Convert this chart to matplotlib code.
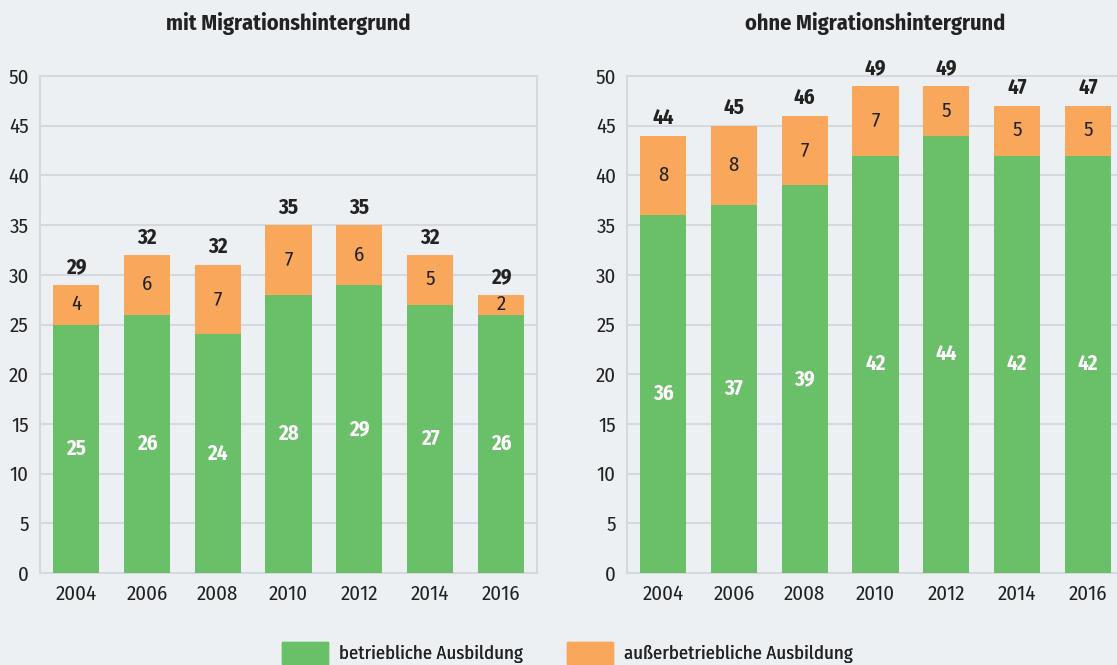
import numpy as np
import matplotlib.pyplot as plt
from matplotlib import font_manager
from matplotlib.patches import Patch

# schmale Schrift mit Bold-Schnitt nehmen
names = set(f.name for f in font_manager.fontManager.ttflist)
font = 'DejaVu Sans'
for cand in ['Fira Sans Condensed', 'Barlow Semi Condensed', 'Asap Condensed']:
    if cand in names:
        font = cand
        break
plt.rcParams['font.family'] = [font, 'DejaVu Sans']
fs = 15 if font != 'DejaVu Sans' else 13.5

years = ['2004', '2006', '2008', '2010', '2012', '2014', '2016']
mit_betr = [25, 26, 24, 28, 29, 27, 26]
mit_ausser = [4, 6, 7, 7, 6, 5, 2]
mit_total = [29, 32, 32, 35, 35, 32, 29]
ohne_betr = [36, 37, 39, 42, 44, 42, 42]
ohne_ausser = [8, 8, 7, 7, 5, 5, 5]
ohne_total = [44, 45, 46, 49, 49, 47, 47]

green = '#6abf69'
orange = '#f9a85b'
bg = '#ecf0f3'
grid_c = '#d5d8dd'
dark = '#222222'

fig = plt.figure(figsize=(11.17, 6.65), dpi=100, facecolor=bg)
W, H = 1117, 665
ax1 = fig.add_axes([40 / W, 1 - 573 / H, 497 / W, 497 / H])
ax2 = fig.add_axes([627 / W, 1 - 573 / H, 497 / W, 497 / H])


def draw(ax, betr, ausser, total, title, box_right):
    x = np.arange(len(years))
    ax.set_facecolor(bg)
    ax.bar(x, betr, width=0.65, color=green, zorder=3)
    ax.bar(x, ausser, bottom=betr, width=0.65, color=orange, zorder=3)
    for i in range(len(x)):
        ax.text(x[i], betr[i] / 2, str(betr[i]), ha='center', va='center',
                color='white', fontsize=fs, fontweight='bold', zorder=4)
        ax.text(x[i], betr[i] + ausser[i] / 2, str(ausser[i]), ha='center', va='center',
                color=dark, fontsize=fs, zorder=4)
        ax.annotate(str(total[i]), (x[i], betr[i] + ausser[i]), xytext=(0, 5),
                    textcoords='offset points', ha='center', va='bottom',
                    color=dark, fontsize=fs, fontweight='bold', zorder=4)
    ax.set_xlim(-0.51, 6.51)
    ax.set_ylim(0, 50)
    ax.set_yticks(range(0, 51, 5))
    ax.set_xticks(x)
    ax.set_xticklabels(years)
    ax.tick_params(axis='both', length=0, labelsize=fs, colors=dark)
    ax.tick_params(axis='y', pad=8)
    ax.tick_params(axis='x', pad=8)
    ax.grid(axis='y', color=grid_c, linewidth=1.5, zorder=0)
    for s in ax.spines.values():
        s.set_color(grid_c)
        s.set_linewidth(1.5)
    ax.spines['right'].set_visible(box_right)
    ax.set_title(title, fontsize=16, fontweight='bold', color=dark, pad=33)


draw(ax1, mit_betr, mit_ausser, mit_total, 'mit Migrationshintergrund', True)
draw(ax2, ohne_betr, ohne_ausser, ohne_total, 'ohne Migrationshintergrund', False)

# Legende: zwei Einträge, einzeln platziert
lfs = 13.5
leg_items = [(green, 'betriebliche Ausbildung', 282), (orange, 'außerbetriebliche Ausbildung', 567)]
for col, lab, px in leg_items:
    lg = fig.legend(handles=[Patch(color=col, label=lab)], loc='upper left',
                    bbox_to_anchor=(px / W, 1 - 642 / H), frameon=False,
                    prop={'size': lfs},
                    handlelength=2.45, handleheight=1.45, handletextpad=0.6,
                    borderpad=0, borderaxespad=0, labelcolor=dark)
    fig.add_artist(lg)

fig.savefig('out.png', dpi=100, facecolor=bg)
